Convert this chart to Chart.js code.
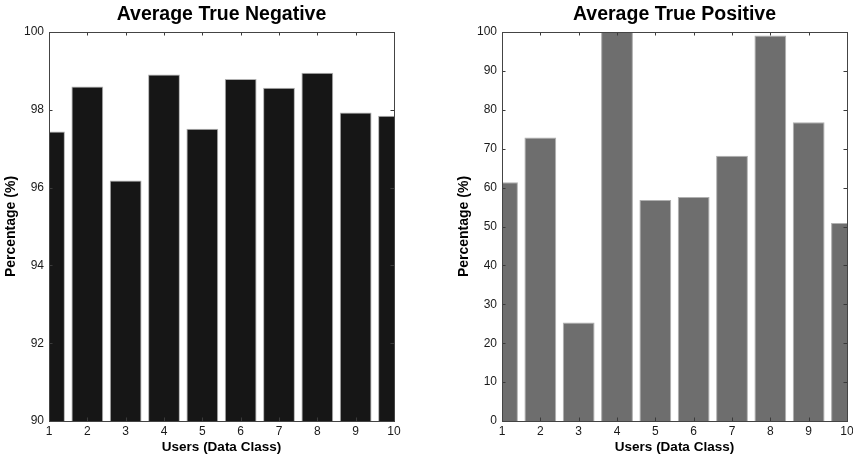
<!DOCTYPE html>
<html>
<head>
<meta charset="utf-8">
<script src="https://cdn.jsdelivr.net/npm/chart.js@4.4.1/dist/chart.umd.min.js"></script>
<style>
    html, body {
        margin: 0;
        padding: 0;
        background: #ffffff;
    }

    #wrap {
        position: relative;
        width: 853px;
        height: 457px;
    }

    .panel {
        position: absolute;
        top: 0;
        width: 426px;
        height: 457px;
    }
</style>
</head>
<body>
<div id="wrap">
    <div class="panel" style="left: 0px;">
        <canvas id="negChart"></canvas>
    </div>
    <div class="panel" style="left: 426px; width: 427px;">
        <canvas id="posChart"></canvas>
    </div>
</div>

<script>

// users 1..10
const users =
    [1, 2, 3, 4, 5, 6, 7, 8, 9, 10];

const trueNegative =
    [97.44, 98.60, 96.18, 98.91, 97.51, 98.79, 98.57, 98.95, 97.93, 97.85];

const truePositive =
    [61.4, 72.9, 25.3, 100, 56.8, 57.6, 68.2, 99.1, 76.8, 50.9];

const negTicks =
    [90, 92, 94, 96, 98, 100];

const posTicks =
    [0, 10, 20, 30, 40, 50, 60, 70, 80, 90, 100];

const FONT =
    "Arial, 'Liberation Sans', Helvetica, sans-serif";

// box round the axes, with short inward ticks on all four sides,
// plus the title centred over the plot area
const matlabAxes = {

    id: "matlabAxes",

    afterDraw: function(chart, args, opts) {

        const ctx = chart.ctx;
        const area = chart.chartArea;
        const xs = chart.scales.x;
        const ys = chart.scales.y;
        const len = 3.5;

        ctx.save();

        ctx.strokeStyle = "#3a3a3a";
        ctx.lineWidth = 1;

        ctx.beginPath();

        xs.ticks.forEach(
            function(t) {
                const px = Math.round(xs.getPixelForValue(t.value)) + 0.5;
                ctx.moveTo(px, area.bottom);
                ctx.lineTo(px, area.bottom - len);
                ctx.moveTo(px, area.top);
                ctx.lineTo(px, area.top + len);
            }
        );

        ys.ticks.forEach(
            function(t) {
                const py = Math.round(ys.getPixelForValue(t.value)) + 0.5;
                ctx.moveTo(area.left, py);
                ctx.lineTo(area.left + len, py);
                ctx.moveTo(area.right, py);
                ctx.lineTo(area.right - len, py);
            }
        );

        ctx.stroke();

        ctx.strokeStyle = "#444444";
        ctx.strokeRect(
            Math.round(area.left) + 0.5,
            Math.round(area.top) + 0.5,
            Math.round(area.right - area.left),
            Math.round(area.bottom - area.top)
        );

        ctx.fillStyle = "#000000";
        ctx.font = "bold 19.5px " + FONT;
        ctx.textAlign = "center";
        ctx.textBaseline = "middle";
        ctx.fillText(
            opts.text,
            (area.left + area.right) / 2,
            15
        );

        ctx.restore();
    }
};

function makeChart(canvasId, values, colour, yMin, yMax, step, padLeft, padRight, titleText) {

    const points =
        users.map(
            function(u, i) {
                return { x: u, y: values[i] };
            }
        );

    return new Chart(
        document.getElementById(canvasId),
        {
            type: "bar",

            data: {
                datasets: [
                    {
                        data: points,
                        backgroundColor: colour,
                        borderColor: "#b0b0b0",
                        borderWidth: 1,
                        borderSkipped: "bottom",
                        barPercentage: 0.83,
                        categoryPercentage: 1.0
                    }
                ]
            },

            options: {
                responsive: true,
                maintainAspectRatio: false,
                animation: false,
                events: [],

                layout: {
                    padding: {
                        left: padLeft,
                        right: padRight,
                        top: 32,
                        bottom: 0
                    }
                },

                plugins: {
                    legend: { display: false },
                    tooltip: { enabled: false },
                    matlabAxes: { text: titleText }
                },

                scales: {
                    x: {
                        type: "linear",
                        min: 1,
                        max: 10,
                        offset: false,
                        grid: {
                            display: false,
                            offset: false,
                            drawTicks: false
                        },
                        border: { display: false },
                        ticks: {
                            stepSize: 1,
                            padding: 3,
                            maxRotation: 0,
                            autoSkip: false,
                            color: "#1a1a1a",
                            font: { family: FONT, size: 12 }
                        },
                        title: {
                            display: true,
                            text: "Users (Data Class)",
                            color: "#000000",
                            padding: { top: 0, bottom: 2 },
                            font: { family: FONT, size: 13.5, weight: "bold" }
                        },
                        afterFit: function(scale) {
                            scale.height = 36;
                            scale.paddingLeft = 0;
                            scale.paddingRight = 0;
                        }
                    },

                    y: {
                        min: yMin,
                        max: yMax,
                        grid: {
                            display: false,
                            drawTicks: false
                        },
                        border: { display: false },
                        ticks: {
                            stepSize: step,
                            padding: 5,
                            color: "#1a1a1a",
                            font: { family: FONT, size: 12 }
                        },
                        title: {
                            display: true,
                            text: "Percentage (%)",
                            color: "#000000",
                            padding: { top: 3, bottom: 0 },
                            font: { family: FONT, size: 14, weight: "bold" }
                        },
                        afterFit: function(scale) {
                            scale.width = 49;
                            scale.paddingTop = 0;
                            scale.paddingBottom = 0;
                        }
                    }
                }
            },

            plugins: [matlabAxes]
        }
    );
}

makeChart(
    "negChart",
    trueNegative,
    "#161616",
    negTicks[0],
    negTicks[negTicks.length - 1],
    negTicks[1] - negTicks[0],
    0,
    32,
    "Average True Negative"
);

makeChart(
    "posChart",
    truePositive,
    "#6e6e6e",
    posTicks[0],
    posTicks[posTicks.length - 1],
    posTicks[1] - posTicks[0],
    27,
    6,
    "Average True Positive"
);

</script>
</body>
</html>
